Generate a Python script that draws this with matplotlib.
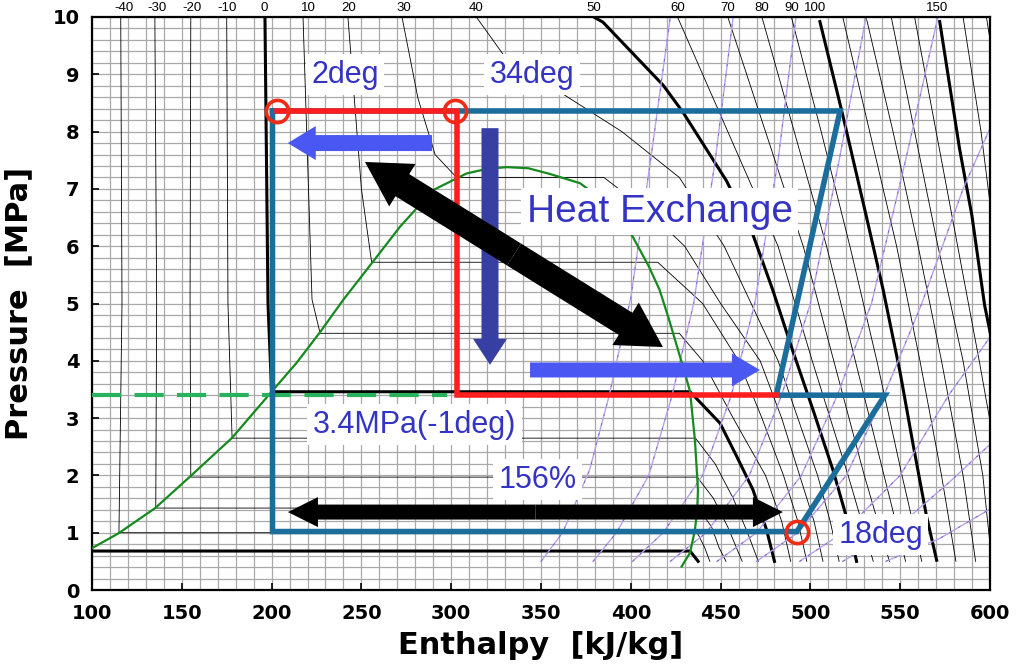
import matplotlib
matplotlib.use("Agg")
import matplotlib.pyplot as plt
from matplotlib import font_manager

# Arial-like font for the notes, DejaVu bold for the axes
names = {f.name for f in font_manager.fontManager.ttflist}
SANS = "Liberation Sans" if "Liberation Sans" in names else "DejaVu Sans"
BOLD = "DejaVu Sans"

# ---- temperature scale on top (deg C -> enthalpy where the isotherm hits 10 MPa)
top_temps = [-40, -30, -20, -10, 0, 10, 20, 30, 40, 50, 60, 70, 80, 90, 100, 150]
top_h = [117.8, 136, 155.6, 175, 196, 220.6, 243, 273.9, 313.9, 379.4, 426, 453.9, 473, 489.4, 502.8, 570.6]

# ---- saturation dome (h kJ/kg, P MPa)
dome_h = [100, 114.8, 135.2, 154.6, 177.8, 200, 213.8, 227, 239.8, 255.7, 271.5, 290, 308.6, 320, 331,
          343, 355, 371.7, 388, 401, 410, 416, 421, 426, 430, 433, 435.7, 437.4, 437, 435.7, 433, 428.3]
dome_p = [0.73, 0.99, 1.43, 1.98, 2.65, 3.46, 3.96, 4.50, 5.06, 5.70, 6.34, 6.98, 7.27, 7.35, 7.38,
          7.36, 7.26, 7.10, 6.72, 6.17, 5.65, 5.24, 4.75, 4.22, 3.80, 3.46, 2.62, 1.75, 1.40, 1.05, 0.65, 0.41]

# ---- isotherms: (label, thick, h list, P list)
isotherms = [
    ("-50", True, [100, 433, 437.5], [0.68, 0.68, 0.5]),
    ("-40", False, [116, 116.7, 115, 437, 441, 444], [10, 5, 1.0, 1.0, 0.75, 0.5]),
    ("-30", False, [135, 136, 135.5, 437.5, 445, 449, 453], [10, 5, 1.43, 1.43, 1.1, 0.75, 0.5]),
    ("-20", False, [155, 154.6, 155, 437, 446, 454, 462], [10, 5, 1.97, 1.97, 1.6, 1.1, 0.5]),
    ("-10", False, [175, 175.7, 178, 436, 447, 457, 465, 471], [10, 5, 2.65, 2.65, 2.2, 1.6, 1.0, 0.5]),
    ("0", True, [196.3, 198, 200, 433, 449.7, 459, 468, 475.6, 480],
     [10, 5, 3.46, 3.46, 2.91, 2.33, 1.75, 1.05, 0.5]),
    ("10", False, [217.5, 222.5, 227, 427, 440, 457, 475, 484, 489],
     [10, 5.07, 4.48, 4.48, 4.0, 3.0, 2.0, 1.2, 0.5]),
    ("20", False, [242.5, 250, 255.7, 415, 440, 460, 473, 485, 493, 498],
     [10, 7.0, 5.72, 5.72, 5.0, 4.0, 3.0, 2.0, 1.2, 0.5]),
    ("30", False, [272.6, 281.5, 291, 303, 385, 410, 430, 450, 472, 484, 494, 502, 507],
     [10, 8.58, 7.6, 7.2, 7.2, 6.6, 6.0, 5.0, 4.0, 3.0, 2.0, 1.2, 0.5]),
    ("40", False, [314, 330, 360, 395, 427, 452, 470, 482, 504, 511, 516],
     [10, 9.3, 8.7, 8.0, 7.2, 6.0, 4.8, 4.0, 2.0, 1.2, 0.5]),
    ("50", True, [379.4, 384.5, 418, 429, 453.3, 468, 479, 490, 501.5, 512.6, 520, 525.7],
     [10, 9.91, 8.81, 8.34, 7.14, 6.2, 5.24, 4.19, 3.14, 2.09, 1.28, 0.5]),
    ("60", False, [426, 454, 482, 501, 521, 535], [10, 8, 6, 4, 2, 0.5]),
    ("70", False, [454, 475, 496, 513, 530, 544], [10, 8, 6, 4, 2, 0.5]),
    ("80", False, [473, 491, 509, 525, 541, 553], [10, 8, 6, 4, 2, 0.5]),
    ("90", False, [489.4, 506, 522, 537, 551, 562], [10, 8, 6, 4, 2, 0.5]),
    ("100", True, [505.3, 518, 531, 540.5, 550, 557, 564.7, 570.3],
     [9.92, 8.29, 6.54, 5.24, 3.79, 2.57, 1.28, 0.52]),
    ("110", False, [518, 533, 548, 561, 573, 581], [10, 8, 6, 4, 2, 0.5]),
    ("120", False, [531, 546, 560, 573, 585, 592], [10, 8, 6, 4, 2, 0.5]),
    ("130", False, [545, 558, 571, 585, 596, 601], [10, 8, 6, 4, 2, 0.5]),
    ("140", False, [558, 570, 582, 594, 602], [10, 8, 6, 4, 2.6]),
    ("150", True, [572, 583, 589.9, 597, 602], [9.92, 7.71, 6.54, 4.97, 4.2]),
    ("160", False, [585, 595, 603], [10, 8, 6]),
    ("170", False, [598, 604], [10, 8.8]),
]

# ---- isentropes (purple)
isentropes = [
    ([350, 362, 377, 388, 400, 411, 422], [0.5, 1.0, 2.09, 3.4, 5.1, 7.5, 10]),
    ([379, 392, 410, 423, 435, 447, 457], [0.5, 1.0, 2.0, 3.4, 5.0, 7.5, 10]),
    ([401, 418, 440, 456, 469, 482, 492], [0.5, 1.0, 2.0, 3.4, 5.0, 7.5, 10]),
    ([422, 442, 466, 484, 500, 516, 531], [0.5, 1.0, 2.0, 3.4, 5.0, 7.5, 10]),
    ([448, 470, 495, 515, 534, 553, 571], [0.5, 1.0, 2.0, 3.4, 5.0, 7.5, 10]),
    ([470, 493, 520, 541, 562, 585, 602], [0.5, 1.0, 2.0, 3.4, 5.0, 7.0, 8.2]),
    ([494, 518, 550, 577, 602], [0.5, 1.0, 2.0, 3.4, 4.5]),
    ([518, 545, 578, 602], [0.5, 1.0, 1.9, 2.6]),
    ([542, 572, 602], [0.5, 0.9, 1.45]),
]

# ---- cycles
blue_h = [200.5, 200.5, 492.5, 541.5, 481, 516.5, 200.5]
blue_p = [8.36, 1.02, 1.02, 3.40, 3.40, 8.36, 8.36]
red_h = [203, 303, 303, 481]
red_p = [8.36, 8.36, 3.40, 3.40]
circle_h = [203, 302, 492.5]
circle_p = [8.36, 8.36, 1.02]
dash_h = [100, 297.5]
dash_p = [3.40, 3.40]

# ---- arrows: (tail, tip, colour, tail width, head width, head length) in px
arrows = [
    ((289.3, 7.80), (209.0, 7.80), "#4a57f2", 16, 34, 28),
    ((321.6, 8.06), (321.6, 3.93), "#383fa3", 17, 34, 26),
    ((335.0, 5.855), (252.0, 7.47), "black", 26, 50, 44),
    ((335.0, 5.855), (417.9, 4.24), "black", 26, 50, 44),
    ((343.9, 3.84), (471.9, 3.84), "#4a57f2", 15, 33, 28),
    ((346.9, 1.36), (209.1, 1.36), "black", 15, 30, 30),
    ((346.9, 1.36), (484.7, 1.36), "black", 15, 30, 30),
]

# ---- notes: (text, h, P, size)
notes = [
    ("2deg", 241, 8.99, 22),
    ("34deg", 345, 8.99, 22),
    ("Heat Exchange", 416, 6.60, 28),
    ("3.4MPa(-1deg)", 279.5, 2.88, 22),
    ("156%", 348, 1.92, 22),
    ("18deg", 539, 0.96, 22),
]

fig = plt.figure(figsize=(10.24, 6.68), dpi=100)
ax = fig.add_axes([92 / 1024, 78 / 668, 898 / 1024, 573 / 668])
ax.set_xlim(100, 600)
ax.set_ylim(0, 10)

# grid
ax.set_xticks(range(100, 601, 50))
ax.set_yticks(range(0, 11))
ax.set_xticks([x for x in range(100, 601, 10)], minor=True)
ax.set_yticks([i * 0.2 for i in range(51)], minor=True)
ax.grid(True, which="both", color="#a9a9a9", lw=0.9, zorder=0)
ax.tick_params(which="minor", length=0)
ax.tick_params(which="major", direction="in", length=5, width=1.2)
ax.set_axisbelow(True)
for s in ax.spines.values():
    s.set_linewidth(1.6)

for lab, thick, hs, ps in isotherms:
    ax.plot(hs, ps, color="black", lw=2.2 if thick else 0.6, zorder=2, clip_on=True)

for hs, ps in isentropes:
    ax.plot(hs, ps, color="#b9a3ea", lw=1.0, zorder=2)
    ax.plot(hs, ps, color="#7a5cc0", lw=0.6, ls=(0, (3, 9)), zorder=2)

ax.plot(dome_h, dome_p, color="#168a1e", lw=1.6, zorder=3)

ax.plot(dash_h, dash_p, color="#27b35e", lw=3.0, dashes=(7, 3.2), zorder=4)
ax.plot(blue_h, blue_p, color="#1b6e9c", lw=4.0, zorder=5, solid_joinstyle="miter")
ax.plot(red_h, red_p, color="#ff1e1e", lw=4.0, zorder=6, solid_joinstyle="miter")
ax.plot(circle_h, circle_p, "o", mfc="none", mec="#f22a16", ms=16, mew=2.6, zorder=7)

for tail, tip, col, tw, hw, hl in arrows:
    ax.annotate("", xy=tip, xytext=tail, zorder=8,
                arrowprops=dict(arrowstyle="simple,head_length=%g,head_width=%g,tail_width=%g" % (hl, hw, tw),
                                color=col, lw=0, shrinkA=0, shrinkB=0, mutation_scale=0.72))

for txt, h, p, size in notes:
    ax.text(h, p, txt, color="#3434c4", fontsize=size, family=SANS, ha="center", va="center", zorder=9,
            bbox=dict(facecolor="white", edgecolor="none", pad=4))

# axis labels
for t in ax.get_xticklabels() + ax.get_yticklabels():
    t.set_family(BOLD)
    t.set_fontweight("bold")
    t.set_fontsize(14)
ax.tick_params(axis="x", pad=10)
ax.tick_params(axis="y", pad=9)
ax.set_xlabel("Enthalpy  [kJ/kg]", family=BOLD, fontweight="bold", fontsize=22, labelpad=6)
ax.set_ylabel("Pressure  [MPa]", family=BOLD, fontweight="bold", fontsize=22, labelpad=14)

# temperature scale on top
top = ax.twiny()
top.set_xlim(100, 600)
top.set_xticks(top_h)
top.set_xticklabels([str(t) for t in top_temps], fontsize=9.5, family=SANS)
top.tick_params(length=0, pad=2)
for s in top.spines.values():
    s.set_visible(False)

fig.savefig("out.png", dpi=100)
